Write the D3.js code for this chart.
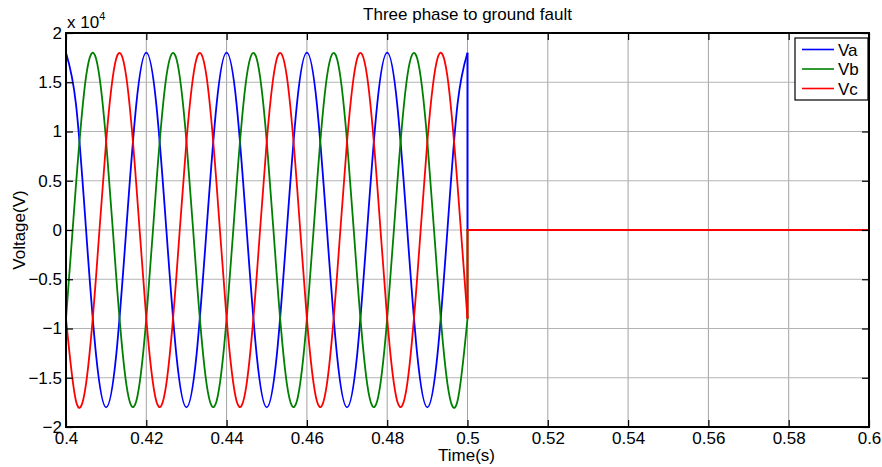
<!DOCTYPE html>
<html>
<head>
<meta charset="utf-8">
<script src="https://cdn.jsdelivr.net/npm/d3@7"></script>
<style>
  body { margin: 0; background: #fff; }
  svg text { font-family: "Liberation Sans", Arial, sans-serif; fill: #000; }
</style>
</head>
<body>
<div id="chart"></div>
<script>
// Samples, every 2.5 ms, before the fault at t = 0.5 s
var time = [0.4000,0.4025,0.4050,0.4075,0.4100,0.4125,0.4150,0.4175,
            0.4200,0.4225,0.4250,0.4275,0.4300,0.4325,0.4350,0.4375,
            0.4400,0.4425,0.4450,0.4475,0.4500,0.4525,0.4550,0.4575,
            0.4600,0.4625,0.4650,0.4675,0.4700,0.4725,0.4750,0.4775,
            0.4800,0.4825,0.4850,0.4875,0.4900,0.4925,0.4950,0.4975,0.5000];
var va = [18000,12728,0,-12728,-18000,-12728,0,12728,
          18000,12728,0,-12728,-18000,-12728,0,12728,
          18000,12728,0,-12728,-18000,-12728,0,12728,
          18000,12728,0,-12728,-18000,-12728,0,12728,
          18000,12728,0,-12728,-18000,-12728,0,12728,18000];
var vb = [-9000,4659,15588,17387,9000,-4659,-15588,-17387,
          -9000,4659,15588,17387,9000,-4659,-15588,-17387,
          -9000,4659,15588,17387,9000,-4659,-15588,-17387,
          -9000,4659,15588,17387,9000,-4659,-15588,-17387,
          -9000,4659,15588,17387,9000,-4659,-15588,-17387,-9000];
var vc = [-9000,-17387,-15588,-4659,9000,17387,15588,4659,
          -9000,-17387,-15588,-4659,9000,17387,15588,4659,
          -9000,-17387,-15588,-4659,9000,17387,15588,4659,
          -9000,-17387,-15588,-4659,9000,17387,15588,4659,
          -9000,-17387,-15588,-4659,9000,17387,15588,4659,-9000];
// after the fault every phase sits at zero
var faultTime = [0.5, 0.6];
var faultValue = [0, 0];

var seriesNames = ["Va", "Vb", "Vc"];
var seriesColors = ["#0000ff", "#008000", "#ff0000"];
var xTicks = [0.4,0.42,0.44,0.46,0.48,0.5,0.52,0.54,0.56,0.58,0.6];
var yTicks = [-2,-1.5,-1,-0.5,0,0.5,1,1.5,2];  // x 10^4

var W = 882, H = 467;
var m = {left: 66, right: 13, top: 33, bottom: 40};
var iw = W - m.left - m.right, ih = H - m.top - m.bottom;
var fs = "17px";

var svg = d3.select("#chart").append("svg").attr("width", W).attr("height", H);
var g = svg.append("g").attr("transform", "translate(" + m.left + "," + m.top + ")");

var x = d3.scaleLinear().domain([0.4, 0.6]).range([0, iw]);
var y = d3.scaleLinear().domain([-20000, 20000]).range([ih, 0]);

// grid
g.selectAll(".vgrid").data(xTicks).enter().append("line")
  .attr("x1", function(d){return x(d);}).attr("x2", function(d){return x(d);})
  .attr("y1", 0).attr("y2", ih)
  .style("stroke", "#8a8a8a").style("stroke-width", 0.8);
g.selectAll(".hgrid").data(yTicks).enter().append("line")
  .attr("x1", 0).attr("x2", iw)
  .attr("y1", function(d){return y(d*1e4);}).attr("y2", function(d){return y(d*1e4);})
  .style("stroke", "#b4b4b4").style("stroke-width", 1);

// curves
var smooth = d3.line().x(function(d){return x(d[0]);}).y(function(d){return y(d[1]);})
  .curve(d3.curveNatural);
var straight = d3.line().x(function(d){return x(d[0]);}).y(function(d){return y(d[1]);});

[va, vb, vc].forEach(function(vals, s){
  var pts = time.map(function(t, i){ return [t, vals[i]]; });
  g.append("path").attr("d", smooth(pts))
    .style("fill", "none").style("stroke", seriesColors[s]).style("stroke-width", 1.8);
  var tail = [[faultTime[0], vals[vals.length-1]]].concat(
    faultTime.map(function(t, i){ return [t, faultValue[i]]; }));
  g.append("path").attr("d", straight(tail))
    .style("fill", "none").style("stroke", seriesColors[s]).style("stroke-width", 2);
});

// axes (ticks inward, mirrored on top and right)
var tl = 7;
function axisStyle(sel){
  sel.select(".domain").remove();
  sel.selectAll(".tick line").style("stroke", "#000").style("stroke-width", 1.2);
  sel.selectAll("text").style("font-size", fs);
}
g.append("g").attr("transform", "translate(0," + ih + ")")
  .call(d3.axisBottom(x).tickValues(xTicks).tickSize(-tl).tickPadding(5)
    .tickFormat(function(d){ return d3.format("")(+d.toFixed(2)); }))
  .call(axisStyle);
g.append("g")
  .call(d3.axisTop(x).tickValues(xTicks).tickSize(-tl).tickFormat(""))
  .call(axisStyle);
g.append("g")
  .call(d3.axisLeft(y).tickValues(yTicks.map(function(d){return d*1e4;})).tickSize(-tl).tickPadding(4)
    .tickFormat(function(d){ return d3.format("")(d/1e4); }))
  .call(axisStyle);
g.append("g").attr("transform", "translate(" + iw + ",0)")
  .call(d3.axisRight(y).tickValues(yTicks.map(function(d){return d*1e4;})).tickSize(-tl).tickFormat(""))
  .call(axisStyle);

// frame
g.append("rect").attr("width", iw).attr("height", ih)
  .style("fill", "none").style("stroke", "#000").style("stroke-width", 2);

// exponent label
var ex = svg.append("text").attr("x", m.left + 1).attr("y", 28).style("font-size", fs);
ex.append("tspan").text("x 10");
ex.append("tspan").attr("dy", -8).style("font-size", "11px").text("4");

// title & axis labels
svg.append("text").attr("x", m.left + iw/2).attr("y", 20).attr("text-anchor", "middle")
  .style("font-size", fs).text("Three phase to ground fault");
svg.append("text").attr("x", m.left + iw/2 - 1).attr("y", 461).attr("text-anchor", "middle")
  .style("font-size", fs).text("Time(s)");
svg.append("text").attr("transform", "translate(25," + (m.top + ih/2) + ") rotate(-90)")
  .attr("text-anchor", "middle").style("font-size", fs).text("Voltage(V)");

// legend
var lg = svg.append("g").attr("transform", "translate(795,38)");
lg.append("rect").attr("width", 73).attr("height", 62)
  .style("fill", "#fff").style("stroke", "#000").style("stroke-width", 1.2);
seriesNames.forEach(function(n, i){
  var yy = 11.5 + i * 19.5;
  lg.append("line").attr("x1", 7).attr("x2", 39).attr("y1", yy).attr("y2", yy)
    .style("stroke", seriesColors[i]).style("stroke-width", 1.6);
  lg.append("text").attr("x", 43).attr("y", yy + 6).style("font-size", fs).text(n);
});
</script>
</body>
</html>
